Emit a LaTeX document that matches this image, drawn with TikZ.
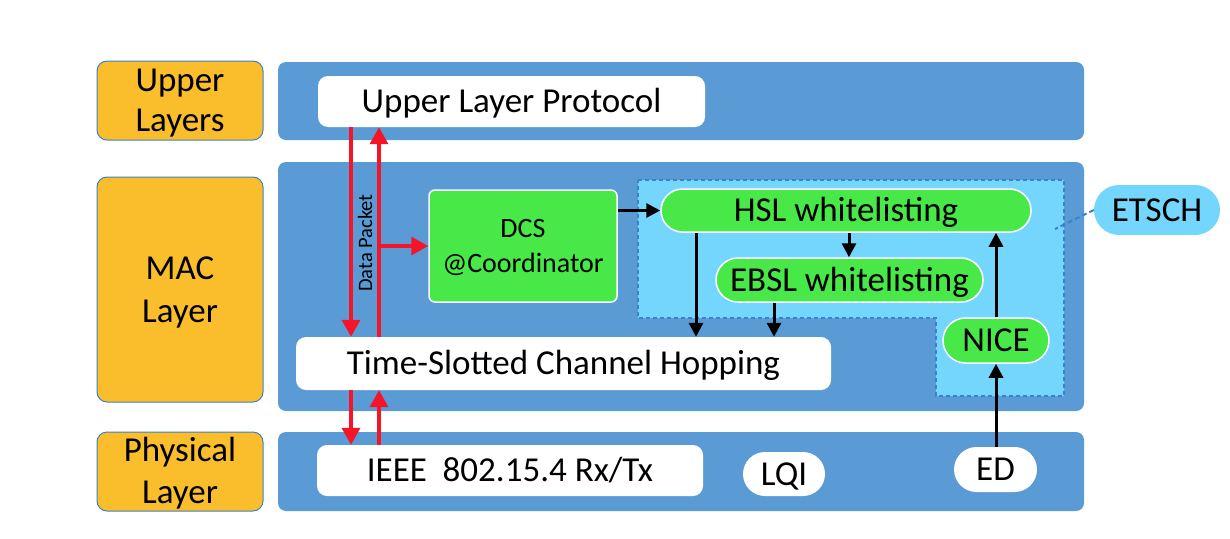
\documentclass[tikz,border=0pt]{standalone}
\usepackage{fontspec}
\setmainfont{Carlito}
\usetikzlibrary{arrows.meta,shapes.misc}
\definecolor{bandblue}{RGB}{91,155,213}
\definecolor{layerorange}{RGB}{250,190,45}
\definecolor{boxgreen}{RGB}{71,232,71}
\definecolor{etschblue}{RGB}{117,214,253}
\definecolor{dashblue}{RGB}{60,130,200}
\definecolor{pktred}{RGB}{245,20,40}
\tikzset{
  band/.style={fill=bandblue, draw=none, rounded corners=8},
  layer/.style={fill=layerorange, draw=dashblue, line width=1, rounded corners=10, align=center, inner sep=0, text depth=0},
  wbox/.style={fill=white, rounded corners=10, inner sep=0, text height=22, text depth=0, font=\fontsize{35}{40}\selectfont},
  pill/.style={rounded rectangle, fill=boxgreen, draw=white, line width=1.5, inner sep=0, text height=22, text depth=0, font=\fontsize{35}{40}\selectfont},
  wpill/.style={rounded rectangle, fill=white, inner sep=0, text height=22, text depth=0, font=\fontsize{35}{40}\selectfont},
  redarr/.style={draw=pktred, line width=3.5, -{Triangle[width=18,length=17]}},
  blkarr/.style={draw=black, line width=3, -{Triangle[width=14,length=14]}},
}
\begin{document}
\begin{tikzpicture}[x=1pt,y=-1pt]
\useasboundingbox (0,0) rectangle (1230,538);

\node[layer, minimum width=166, minimum height=79, text height=62.5, font=\fontsize{35}{40}\selectfont] (upper) at (180,100.5) {Upper\\Layers};
\node[layer, minimum width=166, minimum height=225, text height=65.5, font=\fontsize{35}{43}\selectfont] (mac) at (180,289.5) {MAC\\Layer};
\node[layer, minimum width=166, minimum height=79, text height=64.5, font=\fontsize{35}{42}\selectfont] (phy) at (180,471.5) {Physical\\Layer};

\fill[band] (278,62) rectangle (1084,140);
\fill[band] (278,162) rectangle (1084,411);
\fill[band] (278,432) rectangle (1084,511);

\draw[fill=etschblue, draw=dashblue, line width=1.5, dash pattern=on 4pt off 3pt] (638,180) -- (1064,180) -- (1064,396) -- (936,396) -- (936,318) -- (638,318) -- cycle;

\node[wbox, minimum width=387, minimum height=51] (ulp) at (511.5,101.5) {Upper Layer Protocol};
\node[wbox, minimum width=535, minimum height=53] (tsch) at (563.5,363.5) {Time-Slotted Channel Hopping};
\node[wbox, minimum width=386, minimum height=51] (ieee) at (510,470.5) {IEEE\ \ 802.15.4 Rx/Tx};
\node[fill=boxgreen, draw=white, line width=1.5, rounded corners=6, inner sep=0, minimum width=188, minimum height=112, align=center, text height=52, text depth=0, font=\fontsize{28}{35}\selectfont] (dcs) at (523,246) {DCS\\@Coordinator};
\node[pill, minimum width=370, minimum height=43] (hsl) at (846,210.5) {HSL whitelisting};
\node[pill, minimum width=267, minimum height=44] (ebsl) at (849.5,280) {EBSL whitelisting};
\node[pill, minimum width=106, minimum height=45] (nice) at (996,340.5) {NICE};
\node[wpill, minimum width=82, minimum height=44] (lqi) at (784,474) {LQI};
\node[wpill, minimum width=83, minimum height=45] (ed) at (995.5,469.5) {ED};
\node[wpill, fill=etschblue, minimum width=126, minimum height=50] (etsch) at (1157,210) {ETSCH};
\node[rotate=90, font=\fontsize{20.5}{22}\selectfont] (pkt) at (365,243) {Data Packet};

\coordinate (dnx) at (351,0);
\coordinate (upx) at (379,0);
\coordinate (hslx) at (696,0);
\coordinate (ebslx) at (774,0);
\coordinate (hslin) at (849,0);
\coordinate (nicex) at (996,0);
\coordinate (etschend) at (1055,229);

\draw[redarr] (dnx |- ulp.south) -- (dnx |- tsch.north);
\draw[redarr] (upx |- tsch.north) -- (upx |- ulp.south);
\draw[redarr] (upx |- dcs.west) -- (dcs.west);
\draw[redarr] (dnx |- tsch.south) -- (dnx |- ieee.north);
\draw[redarr] (upx |- ieee.north) -- (upx |- tsch.south);

\draw[blkarr] (dcs.east |- hsl.west) -- (hsl.west);
\draw[blkarr] (hslx |- hsl.south) -- (hslx |- tsch.north);
\draw[blkarr] (hslin |- hsl.south) -- (hslin |- ebsl.north);
\draw[blkarr] (ebslx |- ebsl.south) -- (ebslx |- tsch.north);
\draw[blkarr] (nicex |- nice.north) -- (nicex |- hsl.south);
\draw[blkarr] (nicex |- ed.north) -- (nicex |- nice.south);

\draw[dashblue, line width=2, dash pattern=on 5pt off 3pt] (etsch.west) -- (etschend);

\end{tikzpicture}
\end{document}
